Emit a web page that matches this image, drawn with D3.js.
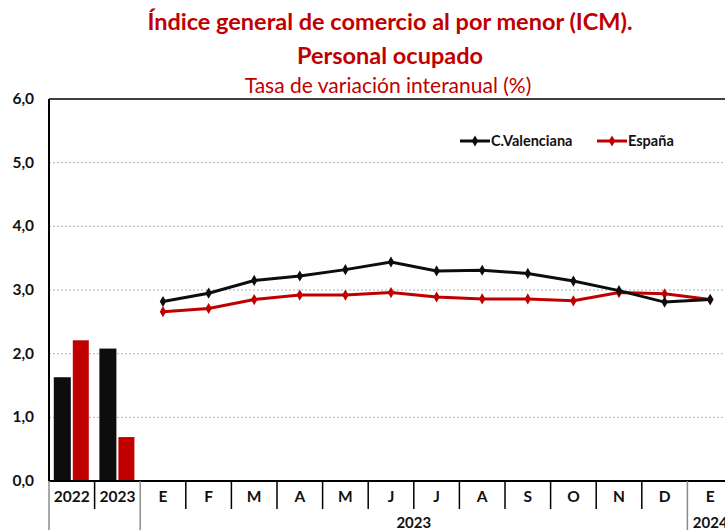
<!DOCTYPE html>
<html>
<head>
<meta charset="utf-8">
<script src="https://cdn.jsdelivr.net/npm/d3@7.9.0/dist/d3.min.js"></script>
<style>
  body { margin: 0; background: #fff; }
  svg { display: block; font-family: Lato, "Open Sans", sans-serif; }
</style>
</head>
<body>
<div id="chart"></div>
<script>
// annual bars
const years = ["2022", "2023"];
const annualValenciana = [1.63, 2.08];
const annualEspana = [2.21, 0.69];

// monthly lines (E 2023 .. E 2024)
const months = ["E", "F", "M", "A", "M", "J", "J", "A", "S", "O", "N", "D", "E"];
const monthlyValenciana = [2.82, 2.95, 3.15, 3.22, 3.32, 3.44, 3.30, 3.31, 3.26, 3.14, 2.99, 2.81, 2.85];
const monthlyEspana = [2.66, 2.71, 2.85, 2.92, 2.92, 2.96, 2.89, 2.86, 2.86, 2.83, 2.96, 2.94, 2.85];

const yTicks = [0, 1, 2, 3, 4, 5, 6];

const width = 725;
const height = 530;
const margin = { top: 99, right: -8, bottom: 49, left: 49 };
const RED = "#c00000";
const BLACK = "#0d0d0d";

const svg = d3.select("#chart").append("svg")
  .attr("width", width)
  .attr("height", height);

// categories: years then months, keyed by index
const categories = years.concat(months).map((d, i) => i);
const labels = years.concat(months);

const x = d3.scaleBand()
  .domain(categories)
  .range([margin.left, width - margin.right]);

const y = d3.scaleLinear()
  .domain([0, 6])
  .range([height - margin.bottom, margin.top]);

// titles
svg.append("text")
  .attr("x", 390).attr("y", 30)
  .attr("text-anchor", "middle")
  .attr("fill", RED)
  .attr("font-weight", "bold")
  .attr("font-size", 23.5)
  .text("Índice general de comercio al por menor (ICM).");

svg.append("text")
  .attr("x", 390).attr("y", 64)
  .attr("text-anchor", "middle")
  .attr("fill", RED)
  .attr("font-weight", "bold")
  .attr("font-size", 23.5)
  .text("Personal ocupado");

svg.append("text")
  .attr("x", 388).attr("y", 93)
  .attr("text-anchor", "middle")
  .attr("fill", RED)
  .attr("font-size", 21)
  .text("Tasa de variación interanual (%)");

// gridlines
svg.append("g")
  .selectAll("line")
  .data(yTicks.filter((d) => d > 0 && d < 6))
  .join("line")
  .attr("x1", margin.left).attr("x2", width)
  .attr("y1", (d) => y(d)).attr("y2", (d) => y(d))
  .attr("stroke", "#b0b0b0")
  .attr("stroke-dasharray", "2,2");

// top border
svg.append("line")
  .attr("x1", margin.left).attr("x2", width)
  .attr("y1", y(6)).attr("y2", y(6))
  .attr("stroke", "#000").attr("stroke-width", 1.5);

// y axis labels
svg.append("g")
  .selectAll("text")
  .data(yTicks)
  .join("text")
  .attr("x", 34)
  .attr("y", (d) => y(d) + 5)
  .attr("text-anchor", "end")
  .attr("font-weight", "bold")
  .attr("font-size", 15.5)
  .attr("fill", "#111")
  .text((d) => d3.format(".1f")(d).replace(".", ","));

// bars
const bw = 17;
const bars = svg.append("g");
years.forEach((yr, i) => {
  const cx = x(i) + x.bandwidth() / 2;
  bars.append("rect")
    .attr("x", cx - bw - 1).attr("width", bw)
    .attr("y", y(annualValenciana[i]))
    .attr("height", y(0) - y(annualValenciana[i]))
    .attr("fill", BLACK);
  bars.append("rect")
    .attr("x", cx + 1).attr("width", bw - 1)
    .attr("y", y(annualEspana[i]))
    .attr("height", y(0) - y(annualEspana[i]))
    .attr("fill", RED);
});

// lines
const monthX = (i) => x(i + years.length) + x.bandwidth() / 2;
const line = d3.line()
  .x((d, i) => monthX(i))
  .y((d) => y(d));

const diamond = d3.symbol().type(d3.symbolDiamond).size(36);

[[monthlyEspana, RED], [monthlyValenciana, BLACK]].forEach(([vals, color]) => {
  svg.append("path")
    .datum(vals)
    .attr("d", line)
    .attr("fill", "none")
    .attr("stroke", color)
    .attr("stroke-width", 3);
  svg.append("g")
    .selectAll("path")
    .data(vals)
    .join("path")
    .attr("d", diamond)
    .attr("transform", (d, i) => `translate(${monthX(i)},${y(d)})`)
    .attr("fill", color);
});

// left axis and baseline
svg.append("line")
  .attr("x1", margin.left).attr("x2", margin.left)
  .attr("y1", y(6)).attr("y2", y(0))
  .attr("stroke", "#000").attr("stroke-width", 2);
svg.append("line")
  .attr("x1", margin.left).attr("x2", width)
  .attr("y1", y(0)).attr("y2", y(0))
  .attr("stroke", "#000").attr("stroke-width", 2);

// category table below the axis
const axisG = svg.append("g");
categories.forEach((c) => {
  const isGroupEdge = c === 0 || c === years.length || c === categories.length - 1;
  axisG.append("line")
    .attr("x1", x(c)).attr("x2", x(c))
    .attr("y1", y(0)).attr("y2", isGroupEdge ? height : y(0) + 28)
    .attr("stroke", isGroupEdge ? "#8c8c8c" : "#000")
    .attr("stroke-width", 1.5);
});
axisG.append("g")
  .selectAll("text")
  .data(categories)
  .join("text")
  .attr("x", (c) => x(c) + x.bandwidth() / 2)
  .attr("y", y(0) + 21)
  .attr("text-anchor", "middle")
  .attr("font-weight", "bold")
  .attr("font-size", 15.5)
  .attr("fill", "#111")
  .text((c) => labels[c]);

// year group labels
const first23 = years.length;
const last23 = years.length + months.length - 2;
axisG.append("text")
  .attr("x", (x(first23) + x(last23) + x.bandwidth()) / 2)
  .attr("y", height - 2)
  .attr("text-anchor", "middle")
  .attr("font-weight", "bold")
  .attr("font-size", 15)
  .attr("fill", "#111")
  .text("2023");
axisG.append("text")
  .attr("x", x(categories.length - 1) + x.bandwidth() / 2)
  .attr("y", height - 2)
  .attr("text-anchor", "middle")
  .attr("font-weight", "bold")
  .attr("font-size", 15)
  .attr("fill", "#111")
  .text("2024");

// legend
const legend = svg.append("g").attr("transform", "translate(0,141)");
[["C.Valenciana", BLACK, 460], ["España", RED, 597]].forEach(([name, color, lx]) => {
  legend.append("line")
    .attr("x1", lx).attr("x2", lx + 30)
    .attr("stroke", color).attr("stroke-width", 3);
  legend.append("path")
    .attr("d", diamond)
    .attr("transform", `translate(${lx + 15},0)`)
    .attr("fill", color);
  legend.append("text")
    .attr("x", lx + 31).attr("y", 5)
    .attr("font-weight", "bold")
    .attr("font-size", 14.5)
    .attr("fill", "#111")
    .text(name);
});
</script>
</body>
</html>
